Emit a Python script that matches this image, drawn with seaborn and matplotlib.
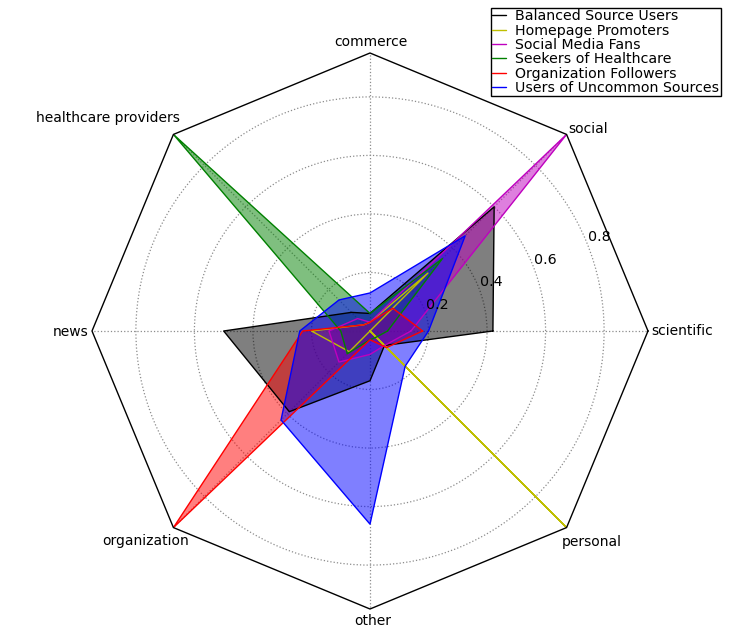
import numpy as np
import matplotlib
matplotlib.use("Agg")
import matplotlib.pyplot as plt
import seaborn as sns

sns.set_style("white")
plt.rcParams['font.family'] = ['DejaVu Sans']
plt.rcParams['text.color'] = 'black'

categories = ["scientific", "social", "commerce", "healthcare providers",
              "news", "organization", "other", "personal"]
series_names = ["Balanced Source Users", "Homepage Promoters", "Social Media Fans",
                "Seekers of Healthcare", "Organization Followers", "Users of Uncommon Sources"]
balanced = [0.42, 0.60, 0.06, 0.09, 0.50, 0.39, 0.17, 0.07]
homepage = [0.00, 0.28, 0.03, 0.03, 0.20, 0.10, 0.00, 0.95]
social_fans = [0.14, 0.95, 0.03, 0.06, 0.14, 0.15, 0.08, 0.07]
healthcare = [0.06, 0.35, 0.06, 0.95, 0.10, 0.11, 0.03, 0.03]
org_followers = [0.18, 0.11, 0.03, 0.03, 0.23, 0.95, 0.03, 0.08]
uncommon = [0.20, 0.46, 0.13, 0.15, 0.24, 0.43, 0.66, 0.17]
series_values = [balanced, homepage, social_fans, healthcare, org_followers, uncommon]
rgrid_values = [0.2, 0.4, 0.6, 0.8]
rgrid_labels = ["0.2", "0.4", "0.6", "0.8"]
rmax = 0.95

colors = ["k", (0.75, 0.75, 0), (0.75, 0, 0.75), (0, 0.5, 0), "r", "b"]

# label alignment and pixel offsets from each frame vertex (dx, dy up)
label_style = [("left", 3, -4), ("left", 1.5, 1.5), ("center", 1, 7.5),
               ("right", 6, 12), ("right", -4, -5), ("right", 16, -17),
               ("center", 3, -16), ("left", -4.5, -18)]

n = len(categories)
theta = np.linspace(0, 2 * np.pi, n, endpoint=False)

fig = plt.figure(figsize=(7.5, 6.33), dpi=100)
ax = fig.add_axes([92 / 750, 24 / 633, 556 / 750, 556 / 633], projection="polar")
ax.set_facecolor("none")
ax.spines["polar"].set_visible(False)
ax.set_ylim(0, rmax)
ax.set_xticks(theta)
ax.set_xticklabels([])
ax.set_yticks(rgrid_values)
ax.set_yticklabels([])
ax.grid(True, color="0.55", linestyle=":", linewidth=0.9)

# octagon frame
tc = np.append(theta, theta[0])
ax.plot(tc, [rmax] * (n + 1), color="k", linewidth=1, clip_on=False, zorder=5)

handles = []
for name, vals, c in zip(series_names, series_values, colors):
    v = np.append(vals, vals[0])
    line, = ax.plot(tc, v, color=c, linewidth=1, label=name)
    ax.fill(tc, v, color=c, alpha=0.5, linewidth=0)
    handles.append(line)

# spoke labels
for ang, lab, (ha, dx, dy) in zip(theta, categories, label_style):
    ax.annotate(lab, xy=(ang, rmax), xytext=(dx * 0.72, dy * 0.72),
                textcoords="offset points", ha=ha, va="baseline", fontsize=10,
                color="black", annotation_clip=False)

for r, lab in zip(rgrid_values, rgrid_labels):
    ax.annotate(lab, xy=(np.radians(22.5), r), xytext=(1.1, 0),
                textcoords="offset points", ha="left", va="baseline",
                fontsize=10.3, color="black")

leg = fig.legend(handles=handles, loc="upper right", bbox_to_anchor=(721 / 750, 1 - 8 / 633),
                 fontsize=10.2, labelspacing=0.02, handlelength=0.95, handletextpad=0.7,
                 borderpad=0.1, borderaxespad=0, fancybox=False, framealpha=1)
leg.get_frame().set_edgecolor("k")
leg.get_frame().set_linewidth(1)
for t in leg.get_texts():
    t.set_color("black")

fig.savefig("out.png", dpi=100)
